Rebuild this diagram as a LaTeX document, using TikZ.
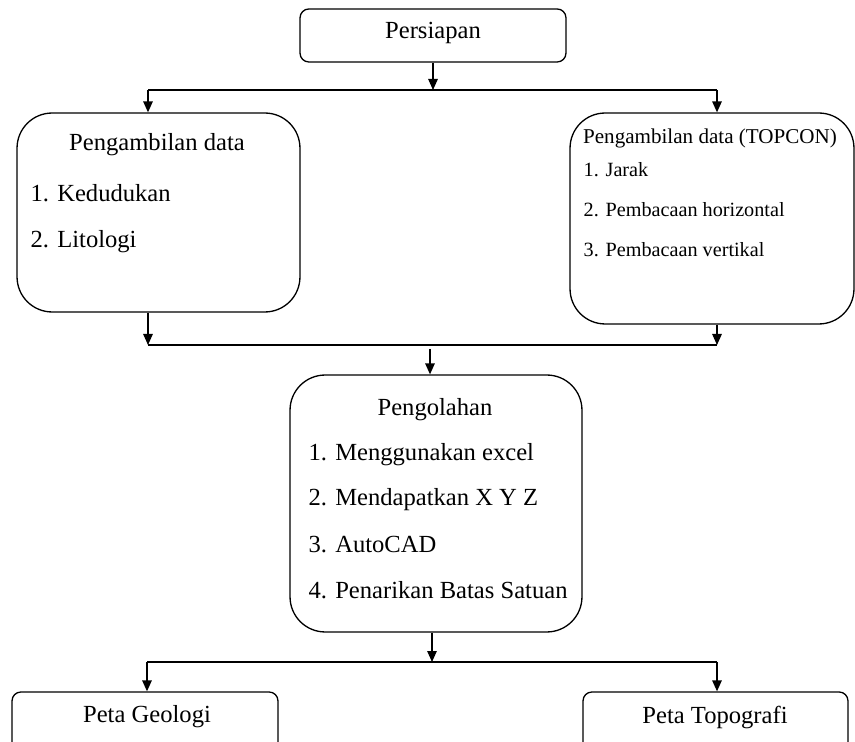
\documentclass[tikz,border=0pt]{standalone}
\usepackage{fontspec}
\setmainfont{Liberation Serif}
\usetikzlibrary{positioning,arrows.meta}
\tikzset{
    flow/.style={>={Triangle[length=2.2mm,width=1.9mm]}, line width=0.75pt,
                 x=0.02cm, y=-0.02cm},
    sbox/.style={draw, rounded corners=5pt, inner sep=0pt},
    bbox/.style={draw, rounded corners=20pt, inner sep=0pt},
    title/.style={font=\fontsize{14}{16}\selectfont, inner sep=0pt},
    item/.style={font=\fontsize{14}{16}\selectfont, inner sep=0pt, anchor=west},
    sitem/.style={font=\fontsize{11.5}{14}\selectfont, inner sep=0pt, anchor=west},
    }
\begin{document}
\begin{tikzpicture}[flow]
            \clip (0,0) rectangle (855,742);

            \node[sbox, minimum width=5.32cm, minimum height=1.06cm] (prep) at (433,35.5) {};
            \node[bbox, minimum width=5.66cm, minimum height=3.98cm] (data1) at (158.5,212.5) {};
            \node[bbox, minimum width=5.68cm, minimum height=4.22cm] (data2) at (712,218.5) {};
            \node[bbox, minimum width=5.84cm, minimum height=5.14cm] (olah) at (436,503.5) {};
            \node[sbox, minimum width=5.32cm, minimum height=1.96cm] (geo) at (145,741) {};
            \node[sbox, minimum width=5.30cm, minimum height=1.96cm] (topo) at (715.5,741) {};

            % texts
            \node[title] (tprep) at (433,33) {Persiapan};
            \node[title] (tdata1) at (157,145) {Pengambilan data};
            \node[item] (d11) at (30,193) {1. Kedudukan};
            \node[item] (d12) at (30,242) {2. Litologi};
            \node[title, font=\fontsize{12}{14}\selectfont] (tdata2) at (710,138) {Pengambilan data (TOPCON)};
            \node[sitem] (d21) at (583,170) {\makebox[0.44cm][l]{1.}Jarak};
            \node[sitem] (d22) at (583,210) {\makebox[0.44cm][l]{2.}Pembacaan horizontal};
            \node[sitem] (d23) at (583,250) {\makebox[0.44cm][l]{3.}Pembacaan vertikal};
            \node[title] (tolah) at (435,410) {Pengolahan};
            \node[item] (o1) at (308,455) {1. Menggunakan excel};
            \node[item] (o2) at (308,500) {2. Mendapatkan X Y Z};
            \node[item] (o3) at (308,545) {3. AutoCAD};
            \node[item] (o4) at (308,590) {4. Penarikan Batas Satuan};
            \node[title] (tgeo) at (147,717) {Peta Geologi};
            \node[title] (ttopo) at (715,717) {Peta Topografi};

            % junctions
            \coordinate (a0) at (433,90);
            \coordinate (a1) at (148,90);
            \coordinate (a2) at (717,90);
            \coordinate (b0) at (430,349);
            \coordinate (b1) at (148,345);
            \coordinate (b2) at (717,345);
            \coordinate (c0) at (432,662);
            \coordinate (c1) at (147,662);
            \coordinate (c2) at (717,662);

            \draw[->] (prep) -- (a0);
            \draw (a1) -- (a2);
            \draw[->] (a1) -- (a1 |- data1.north);
            \draw[->] (a2) -- (a2 |- data2.north);

            \draw[->] (b1 |- data1.south) -- (b1);
            \draw[->] (b2 |- data2.south) -- (b2);
            \draw (b1) -- (b2);
            \draw[->] (b0) -- (b0 |- olah.north);

            \draw[->] (c0 |- olah.south) -- (c0);
            \draw (c1) -- (c2);
            \draw[->] (c1) -- (c1 |- geo.north);
            \draw[->] (c2) -- (c2 |- topo.north);
\end{tikzpicture}
\end{document}
